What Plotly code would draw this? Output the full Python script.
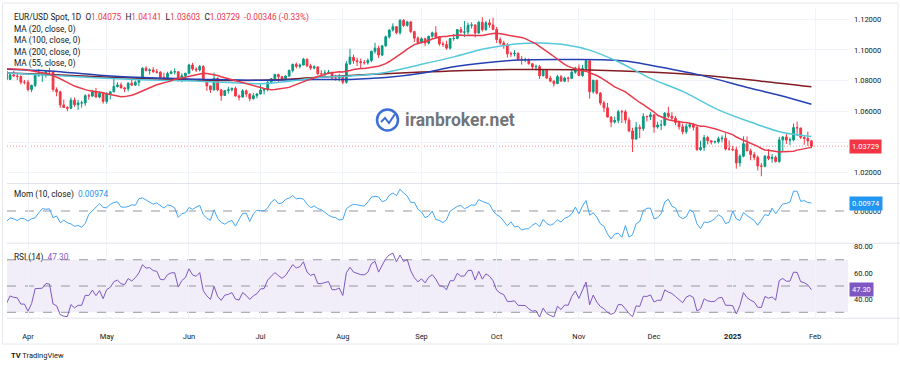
import numpy as np
import pandas as pd
import plotly.graph_objects as go

# ---------------- data (daily EUR/USD, Feb 26 2024 .. Jan 31 2025) ----------------
opens = [
    1.0820, 1.0850, 1.0845, 1.0835,
    1.0805, 1.0838, 1.0855, 1.0855, 1.0900, 1.0948, 1.0938, 1.0927, 1.0928, 1.0948, 1.0882, 1.0890, 1.0870, 1.0865, 1.0922, 1.0860, 1.0808, 1.0838, 1.0830, 1.0827, 1.0790,
    1.0790, 1.0742, 1.0769, 1.0836, 1.0837, 1.0838, 1.0860, 1.0858, 1.0742, 1.0727, 1.0642, 1.0625, 1.0620, 1.0673, 1.0643, 1.0655, 1.0655, 1.0702, 1.0700, 1.0727, 1.0693, 1.0718,
    1.0665, 1.0714, 1.0727, 1.0762, 1.0772, 1.0753, 1.0747, 1.0783, 1.0771, 1.0790, 1.0820, 1.0881, 1.0866, 1.0870, 1.0858, 1.0855, 1.0822, 1.0820, 1.0847, 1.0857, 1.0858, 1.0800, 1.0832,
    1.0848, 1.0902, 1.0876, 1.0870, 1.0892, 1.0800, 1.0766, 1.0740, 1.0815, 1.0740, 1.0703, 1.0735, 1.0740, 1.0750, 1.0700, 1.0693, 1.0734, 1.0713, 1.0683, 1.0702,
    1.0713, 1.0739, 1.0741, 1.0790, 1.0812, 1.0840, 1.0826, 1.0813, 1.0830, 1.0866, 1.0907, 1.0893, 1.0902, 1.0940, 1.0897, 1.0882, 1.0890, 1.0845, 1.0845, 1.0850, 1.0855, 1.0818, 1.0818,
    1.0825, 1.0790, 1.0910, 1.0953, 1.0930, 1.0924, 1.0918, 1.0917, 1.0932, 1.0992, 1.1012, 1.0967, 1.1027, 1.1086, 1.1130, 1.1152, 1.1113, 1.1193, 1.1160, 1.1183, 1.1120, 1.1077,
    1.1048, 1.1073, 1.1045, 1.1090, 1.1112, 1.1085, 1.1040, 1.1036, 1.1012, 1.1075, 1.1075, 1.1133, 1.1116, 1.1118, 1.1161, 1.1163, 1.1111, 1.1180, 1.1133, 1.1177, 1.1163,
    1.1135, 1.1068, 1.1046, 1.1033, 1.0975, 1.0975, 1.0978, 1.0940, 1.0936, 1.0937, 1.0910, 1.0890, 1.0892, 1.0832, 1.0868, 1.0817, 1.0797, 1.0781, 1.0826, 1.0797, 1.0817, 1.0815, 1.0855,
    1.0883, 1.0833, 1.0879, 1.0930, 1.0728, 1.0803, 1.0719, 1.0655, 1.0623, 1.0563, 1.0530, 1.0541, 1.0598, 1.0597, 1.0543, 1.0472, 1.0419, 1.0495, 1.0488, 1.0567, 1.0565,
    1.0577, 1.0498, 1.0511, 1.0511, 1.0588, 1.0568, 1.0555, 1.0527, 1.0500, 1.0467, 1.0502, 1.0513, 1.0496, 1.0350, 1.0364, 1.0429, 1.0408, 1.0400, 1.0402, 1.0421, 1.0425, 1.0354,
    1.0354, 1.0350, 1.0264, 1.0308, 1.0389, 1.0343, 1.0318, 1.0300, 1.0244, 1.0242, 1.0308, 1.0292, 1.0300, 1.0273, 1.0414, 1.0433, 1.0413, 1.0414, 1.0494, 1.0492, 1.0430, 1.0423, 1.04075,
]
highs = [
    1.0865, 1.0863, 1.0848, 1.0860,
    1.0850, 1.0860, 1.0868, 1.0912, 1.0950, 1.0981, 1.0945, 1.0940, 1.0963, 1.0955, 1.0905, 1.0902, 1.0880, 1.0930, 1.0942, 1.0868, 1.0845, 1.0864, 1.0845, 1.0835, 1.0805,
    1.0805, 1.0775, 1.0840, 1.0876, 1.0850, 1.0868, 1.0885, 1.0863, 1.0756, 1.0735, 1.0677, 1.0633, 1.0690, 1.0690, 1.0675, 1.0670, 1.0712, 1.0715, 1.0740, 1.0753, 1.0729, 1.0725,
    1.0725, 1.0730, 1.0812, 1.0790, 1.0788, 1.0760, 1.0790, 1.0810, 1.0800, 1.0822, 1.0888, 1.0895, 1.0880, 1.0888, 1.0877, 1.0862, 1.0852, 1.0858, 1.0868, 1.0880, 1.0860, 1.0848, 1.0852,
    1.0910, 1.0916, 1.0887, 1.0902, 1.0902, 1.0806, 1.0768, 1.0852, 1.0822, 1.0743, 1.0740, 1.0760, 1.0755, 1.0762, 1.0710, 1.0745, 1.0742, 1.0718, 1.0720, 1.0720,
    1.0776, 1.0750, 1.0799, 1.0816, 1.0845, 1.0845, 1.0830, 1.0835, 1.0873, 1.0910, 1.0918, 1.0912, 1.0948, 1.0944, 1.0910, 1.0900, 1.0890, 1.0868, 1.0870, 1.0870, 1.0857, 1.0838, 1.0845,
    1.0832, 1.0927, 1.1008, 1.0970, 1.0950, 1.0944, 1.0935, 1.0945, 1.0995, 1.1047, 1.1028, 1.1030, 1.1094, 1.1135, 1.1174, 1.1155, 1.1201, 1.1202, 1.1190, 1.1190, 1.1125, 1.1089,
    1.1083, 1.1080, 1.1092, 1.1120, 1.1155, 1.1090, 1.1055, 1.1060, 1.1078, 1.1105, 1.1137, 1.1150, 1.1189, 1.1179, 1.1180, 1.1168, 1.1190, 1.1214, 1.1190, 1.1200, 1.1210,
    1.1150, 1.1083, 1.1060, 1.1045, 1.0990, 1.0998, 1.0985, 1.0960, 1.0950, 1.0945, 1.0915, 1.0905, 1.0902, 1.0870, 1.0870, 1.0832, 1.0803, 1.0838, 1.0838, 1.0826, 1.0826, 1.0870, 1.0890,
    1.0905, 1.0903, 1.0937, 1.0937, 1.0806, 1.0805, 1.0725, 1.0669, 1.0655, 1.0568, 1.0566, 1.0609, 1.0610, 1.0610, 1.0560, 1.0493, 1.0530, 1.0514, 1.0588, 1.0572, 1.0595,
    1.0583, 1.0532, 1.0545, 1.0596, 1.0630, 1.0595, 1.0570, 1.0540, 1.0520, 1.0520, 1.0525, 1.0520, 1.0512, 1.0408, 1.0446, 1.0440, 1.0410, 1.0410, 1.0435, 1.0443, 1.0457, 1.0410,
    1.0375, 1.0367, 1.0320, 1.0437, 1.0436, 1.0358, 1.0335, 1.0312, 1.0263, 1.0315, 1.0353, 1.0321, 1.0312, 1.0434, 1.0438, 1.0455, 1.0430, 1.0521, 1.0533, 1.0492, 1.0443, 1.0468, 1.04141,
]
lows = [
    1.0815, 1.0835, 1.0795, 1.0795,
    1.0796, 1.0826, 1.0835, 1.0850, 1.0890, 1.0925, 1.0910, 1.0895, 1.0922, 1.0875, 1.0873, 1.0860, 1.0837, 1.0850, 1.0850, 1.0800, 1.0805, 1.0827, 1.0804, 1.0776, 1.0775,
    1.0730, 1.0725, 1.0757, 1.0825, 1.0792, 1.0820, 1.0842, 1.0728, 1.0698, 1.0623, 1.0622, 1.0601, 1.0614, 1.0630, 1.0610, 1.0624, 1.0636, 1.0675, 1.0693, 1.0690, 1.0685, 1.0650,
    1.0650, 1.0677, 1.0725, 1.0755, 1.0750, 1.0725, 1.0730, 1.0765, 1.0765, 1.0765, 1.0803, 1.0860, 1.0840, 1.0852, 1.0846, 1.0818, 1.0805, 1.0814, 1.0842, 1.0840, 1.0796, 1.0790, 1.0812,
    1.0842, 1.0865, 1.0857, 1.0860, 1.0795, 1.0733, 1.0720, 1.0735, 1.0730, 1.0668, 1.0700, 1.0715, 1.0730, 1.0696, 1.0671, 1.0690, 1.0693, 1.0666, 1.0676, 1.0685,
    1.0710, 1.0710, 1.0730, 1.0785, 1.0795, 1.0790, 1.0800, 1.0805, 1.0825, 1.0853, 1.0880, 1.0880, 1.0900, 1.0888, 1.0870, 1.0874, 1.0835, 1.0828, 1.0825, 1.0842, 1.0810, 1.0800, 1.0795,
    1.0777, 1.0780, 1.0903, 1.0910, 1.0895, 1.0880, 1.0905, 1.0905, 1.0920, 1.0977, 1.0948, 1.0960, 1.1020, 1.1075, 1.1120, 1.1102, 1.1100, 1.1150, 1.1152, 1.1110, 1.1053, 1.1040,
    1.1042, 1.1025, 1.1035, 1.1080, 1.1075, 1.1027, 1.1020, 1.1002, 1.1002, 1.1060, 1.1070, 1.1110, 1.1085, 1.1100, 1.1140, 1.1082, 1.1105, 1.1120, 1.1124, 1.1145, 1.1128,
    1.1046, 1.1033, 1.1008, 1.0951, 1.0955, 1.0958, 1.0931, 1.0905, 1.0920, 1.0905, 1.0870, 1.0865, 1.0811, 1.0828, 1.0810, 1.0790, 1.0761, 1.0778, 1.0796, 1.0790, 1.0790, 1.0810, 1.0845,
    1.0832, 1.0825, 1.0866, 1.0683, 1.0715, 1.0710, 1.0640, 1.0595, 1.0560, 1.0496, 1.0520, 1.0522, 1.0523, 1.0521, 1.0464, 1.0335, 1.0420, 1.0425, 1.0472, 1.0534, 1.0543,
    1.0460, 1.0487, 1.0477, 1.0503, 1.0555, 1.0540, 1.0510, 1.0480, 1.0450, 1.0453, 1.0488, 1.0475, 1.0343, 1.0343, 1.0343, 1.0385, 1.0384, 1.0390, 1.0390, 1.0398, 1.0344, 1.0344,
    1.0340, 1.0226, 1.0240, 1.0300, 1.0340, 1.0281, 1.0282, 1.0214, 1.0177, 1.0235, 1.0282, 1.0265, 1.0266, 1.0265, 1.0341, 1.0388, 1.0380, 1.0405, 1.0438, 1.0420, 1.0382, 1.0375, 1.03603,
]
closes = [
    1.0850, 1.0845, 1.0835, 1.0805,
    1.0838, 1.0855, 1.0855, 1.0900, 1.0948, 1.0938, 1.0927, 1.0928, 1.0948, 1.0882, 1.0890, 1.0870, 1.0865, 1.0922, 1.0860, 1.0808, 1.0838, 1.0830, 1.0827, 1.0790, 1.0790,
    1.0742, 1.0769, 1.0836, 1.0837, 1.0838, 1.0860, 1.0858, 1.0742, 1.0727, 1.0642, 1.0625, 1.0620, 1.0673, 1.0643, 1.0655, 1.0655, 1.0702, 1.0700, 1.0727, 1.0693, 1.0718, 1.0665,
    1.0714, 1.0727, 1.0762, 1.0772, 1.0753, 1.0747, 1.0783, 1.0771, 1.0790, 1.0820, 1.0881, 1.0866, 1.0870, 1.0858, 1.0855, 1.0822, 1.0820, 1.0847, 1.0857, 1.0858, 1.0800, 1.0832, 1.0848,
    1.0902, 1.0876, 1.0870, 1.0892, 1.0800, 1.0766, 1.0740, 1.0815, 1.0740, 1.0703, 1.0735, 1.0740, 1.0750, 1.0700, 1.0693, 1.0734, 1.0713, 1.0683, 1.0702, 1.0713,
    1.0739, 1.0741, 1.0790, 1.0812, 1.0840, 1.0826, 1.0813, 1.0830, 1.0866, 1.0907, 1.0893, 1.0902, 1.0940, 1.0897, 1.0882, 1.0890, 1.0845, 1.0845, 1.0850, 1.0855, 1.0818, 1.0818, 1.0825,
    1.0790, 1.0910, 1.0953, 1.0930, 1.0924, 1.0918, 1.0917, 1.0932, 1.0992, 1.1012, 1.0967, 1.1027, 1.1086, 1.1130, 1.1152, 1.1113, 1.1193, 1.1160, 1.1183, 1.1120, 1.1077, 1.1048,
    1.1073, 1.1045, 1.1090, 1.1112, 1.1085, 1.1040, 1.1036, 1.1012, 1.1075, 1.1075, 1.1133, 1.1116, 1.1118, 1.1161, 1.1163, 1.1111, 1.1180, 1.1133, 1.1177, 1.1163, 1.1135,
    1.1068, 1.1046, 1.1033, 1.0975, 1.0975, 1.0978, 1.0940, 1.0936, 1.0937, 1.0910, 1.0890, 1.0892, 1.0832, 1.0868, 1.0817, 1.0797, 1.0781, 1.0826, 1.0797, 1.0817, 1.0815, 1.0855, 1.0883,
    1.0833, 1.0879, 1.0930, 1.0728, 1.0803, 1.0719, 1.0655, 1.0623, 1.0563, 1.0530, 1.0541, 1.0598, 1.0597, 1.0543, 1.0472, 1.0419, 1.0495, 1.0488, 1.0567, 1.0565, 1.0577,
    1.0498, 1.0511, 1.0511, 1.0588, 1.0568, 1.0555, 1.0527, 1.0500, 1.0467, 1.0502, 1.0513, 1.0496, 1.0350, 1.0364, 1.0429, 1.0408, 1.0400, 1.0402, 1.0421, 1.0425, 1.0354, 1.0354,
    1.0350, 1.0264, 1.0308, 1.0389, 1.0343, 1.0318, 1.0300, 1.0244, 1.0242, 1.0308, 1.0292, 1.0300, 1.0273, 1.0414, 1.0433, 1.0413, 1.0414, 1.0494, 1.0492, 1.0430, 1.0423, 1.04075, 1.03729,
]

# long moving averages (bar index, price)
ma55_bar = [-6, 6, 20, 34, 48, 65, 74, 82, 90, 99, 109, 119, 128, 137, 143, 151, 157, 165, 174, 183, 193, 202, 211, 219]
ma55_val = [1.0850, 1.0836, 1.0817, 1.0804, 1.0797, 1.0780, 1.0800, 1.0822, 1.0830, 1.0850, 1.0901, 1.0955,
            1.1010, 1.1040, 1.1045, 1.1031, 1.0999, 1.0923, 1.0815, 1.0730, 1.0610, 1.0530, 1.0462, 1.0436]
ma100_bar = [-6, 6, 20, 34, 48, 65, 80, 90, 100, 110, 119, 128, 137, 150, 160, 167, 174, 188, 202, 210, 219]
ma100_val = [1.0875, 1.0863, 1.0836, 1.0819, 1.0810, 1.0802, 1.0808, 1.0808, 1.0820, 1.0848, 1.0890,
             1.0917, 1.0934, 1.0938, 1.0937, 1.0928, 1.0901, 1.0836, 1.0750, 1.0705, 1.0646]
ma200_bar = [-6, 6, 20, 34, 48, 65, 80, 95, 110, 128, 140, 157, 175, 190, 205, 219]
ma200_val = [1.0850, 1.0840, 1.0826, 1.0812, 1.0803, 1.0803, 1.0820, 1.0840, 1.0856, 1.0870,
             1.0873, 1.0870, 1.0855, 1.0832, 1.0797, 1.0760]

month_labels = ["Apr", "May", "Jun", "Jul", "Aug", "Sep", "Oct", "Nov", "Dec", "<b>2025</b>", "Feb"]
last_price = 1.03729
last_mom = 0.00974
last_rsi = 47.30

assert len(opens) == len(highs) == len(lows) == len(closes) == 245, (len(opens), len(highs), len(lows), len(closes))

# ---------------- bar index axis ----------------
dates = pd.bdate_range("2024-02-26", "2025-02-03")
first_apr = list(dates).index(pd.Timestamp("2024-04-01"))
bar_all = np.arange(len(dates)) - first_apr
bars = bar_all[:len(closes)]
month_pos = []
prev_month = None
for d, b in zip(dates, bar_all):
    if b < 0:
        continue
    if d.month != prev_month:
        month_pos.append(int(b))
        prev_month = d.month
month_pos = month_pos[:len(month_labels)]

c = pd.Series(closes)
ma20 = c.rolling(20).mean()
mom = c - c.shift(10)
delta = c.diff()
up = delta.clip(lower=0).ewm(alpha=1 / 14, adjust=False).mean()
dn = (-delta.clip(upper=0)).ewm(alpha=1 / 14, adjust=False).mean()
rsi = 100 - 100 / (1 + up / dn)

W, H = 900, 367
def py(px):
    return 1 - px / H
def pxx(px):
    return px / W

X0, X1 = 7, 848
xr = [(X0 - 28) / 3.5773, (X1 - 28) / 3.5773]

FONT = "Roboto, Arial, sans-serif"
TXT = "#131722"
GRID = "#f0f3fa"
UP, DN = "#089981", "#f23645"

fig = go.Figure()
fig.add_trace(go.Candlestick(
    x=bars, open=opens, high=highs, low=lows, close=closes,
    increasing=dict(line=dict(color=UP, width=1), fillcolor=UP),
    decreasing=dict(line=dict(color=DN, width=1), fillcolor=DN),
    whiskerwidth=0, xaxis="x", yaxis="y", showlegend=False, hoverinfo="skip"))

fig.add_trace(go.Scatter(x=ma200_bar, y=ma200_val, mode="lines", line=dict(color="#801c22", width=1.5, shape="spline"),
                         xaxis="x", yaxis="y", showlegend=False, hoverinfo="skip"))
fig.add_trace(go.Scatter(x=ma100_bar, y=ma100_val, mode="lines", line=dict(color="#2440b3", width=1.5, shape="spline"),
                         xaxis="x", yaxis="y", showlegend=False, hoverinfo="skip"))
fig.add_trace(go.Scatter(x=ma55_bar, y=ma55_val, mode="lines", line=dict(color="#56c8dc", width=1.5, shape="spline"),
                         xaxis="x", yaxis="y", showlegend=False, hoverinfo="skip"))
fig.add_trace(go.Scatter(x=bars, y=ma20, mode="lines", line=dict(color="#e8394a", width=1.5),
                         xaxis="x", yaxis="y", showlegend=False, hoverinfo="skip"))

fig.add_trace(go.Scatter(x=bars, y=mom, mode="lines", line=dict(color="#42a5f5", width=1),
                         xaxis="x2", yaxis="y2", showlegend=False, hoverinfo="skip"))
fig.add_trace(go.Scatter(x=bars, y=rsi, mode="lines", line=dict(color="#7e57c2", width=1),
                         xaxis="x3", yaxis="y3", showlegend=False, hoverinfo="skip"))

xcommon = dict(range=xr, domain=[pxx(X0), pxx(X1)], showgrid=True, gridcolor=GRID, gridwidth=1,
               tickvals=month_pos, zeroline=False, showline=False, ticks="", fixedrange=True)
ycommon = dict(side="right", showline=False, zeroline=False, ticks="", ticklabelstandoff=5,
               tickfont=dict(family=FONT, size=7.5, color=TXT), fixedrange=True)

price_ticks = [1.02, 1.04, 1.06, 1.08, 1.10, 1.12]
fig.update_layout(
    width=W, height=H, margin=dict(l=0, r=0, t=0, b=0),
    paper_bgcolor="white", plot_bgcolor="white", showlegend=False,
    font=dict(family=FONT, color=TXT), hovermode=False,
    xaxis=dict(**xcommon, anchor="y", showticklabels=False, rangeslider=dict(visible=False)),
    xaxis2=dict(**xcommon, anchor="y2", matches="x", showticklabels=False),
    xaxis3=dict(**xcommon, anchor="y3", matches="x", showticklabels=True, ticktext=month_labels,
                ticklabelstandoff=12, tickfont=dict(family=FONT, size=7.5, color=TXT)),
    yaxis=dict(**ycommon, domain=[py(183), py(8)], range=[1.01329, 1.12737], anchor="x",
               tickvals=price_ticks, ticktext=[f"{v:.5f}" for v in price_ticks],
               showgrid=True, gridcolor=GRID),
    yaxis2=dict(**ycommon, domain=[py(242.5), py(184.5)], range=[-0.03985, 0.03352], anchor="x2",
                tickvals=[0.0], ticktext=["0.00000"], showgrid=False),
    yaxis3=dict(**ycommon, domain=[py(318), py(243.5)], range=[25.65, 82.4], anchor="x3",
                tickvals=[40, 60, 80], ticktext=["40.00", "60.00", "80.00"], showgrid=False),
)

shapes = []
# RSI band
shapes.append(dict(type="rect", xref="paper", yref="y3", x0=pxx(X0), x1=pxx(X1), y0=30, y1=70,
                   fillcolor="rgba(126,87,194,0.10)", line=dict(width=0), layer="below"))
for lv in [70, 50, 30]:
    shapes.append(dict(type="line", xref="paper", yref="y3", x0=pxx(X0), x1=pxx(X1), y0=lv, y1=lv,
                       line=dict(color="#9598a1", width=1, dash="dash"), layer="below"))
shapes.append(dict(type="line", xref="paper", yref="y2", x0=pxx(X0), x1=pxx(X1), y0=0, y1=0,
                   line=dict(color="#9598a1", width=1, dash="dash"), layer="below"))
# last price line
shapes.append(dict(type="line", xref="paper", yref="y", x0=pxx(X0), x1=pxx(X1), y0=last_price, y1=last_price,
                   line=dict(color="rgba(242,54,69,0.7)", width=0.8, dash="1px,2px"), layer="below"))
# pane separators
for ypx in [183.5, 243.2, 318.2]:
    shapes.append(dict(type="line", xref="paper", yref="paper", x0=pxx(X0), x1=1, y0=py(ypx), y1=py(ypx),
                       line=dict(color="#e0e3eb", width=1)))
# outer frame
shapes.append(dict(type="rect", xref="paper", yref="paper", x0=pxx(2.5), x1=pxx(898), y0=py(344), y1=py(3),
                   line=dict(color="#e6e8ee", width=1), fillcolor="rgba(0,0,0,0)"))
# watermark icon
shapes.append(dict(type="circle", xref="paper", yref="paper", x0=pxx(377), x1=pxx(398), y0=py(130.5), y1=py(109.5),
                   line=dict(color="#3d6fd6", width=2.5)))
shapes.append(dict(type="path", xref="paper", yref="paper",
                   path=f"M {pxx(381)} {py(122)} L {pxx(385)} {py(118)} L {pxx(389)} {py(123)} L {pxx(395)} {py(114)}",
                   line=dict(color="#3d6fd6", width=2)))
fig.update_layout(shapes=shapes)

R = "#f23645"
def ann(text, xpx, ypx, size=8, color=TXT, **kw):
    return dict(text=text, xref="paper", yref="paper", x=pxx(xpx), y=py(ypx), xanchor="left", yanchor="middle",
                showarrow=False, font=dict(family=FONT, size=size, color=color), **kw)

title = (f"EUR/USD Spot, 1D&nbsp;&nbsp;O<span style='color:{R}'>1.04075</span>&nbsp;&nbsp;H<span style='color:{R}'>1.04141</span>"
         f"&nbsp;&nbsp;L<span style='color:{R}'>1.03603</span>&nbsp;&nbsp;C<span style='color:{R}'>1.03729</span>"
         f"&nbsp;&nbsp;<span style='color:{R}'>-0.00346 (-0.33%)</span>")
annotations = [
    ann(title, 12, 17.3, size=8.3),
    ann("MA (20, close, 0)", 12, 29.3, size=8.3),
    ann("MA (100, close, 0)", 12, 41, size=8.3),
    ann("MA (200, close, 0)", 12, 52.3, size=8.3),
    ann("MA (55, close, 0)", 12, 63.3, size=8.3),
    ann(f"Mom (10, close)&nbsp;&nbsp;<span style='color:#2196f3'>{last_mom:.5f}</span>", 12, 194.5, size=8.3),
    ann(f"RSI (14)&nbsp;&nbsp;<span style='color:#7e57c2'>{last_rsi:.2f}</span>", 12, 257, size=8.3),
    ann("<b>iranbroker.net</b>", 403, 120, size=17.5, color="rgba(75,78,86,0.8)"),
    ann("<b>TV</b> TradingView", 9, 355, size=7.5),
]
# last value labels
for val, yref, col, fmt in [(last_price, "y", "#f23645", "{:.5f}"), (last_mom, "y2", "#2196f3", "{:.5f}"),
                            (last_rsi, "y3", "#7e57c2", "{:.2f}")]:
    annotations.append(dict(text=fmt.format(val), xref="paper", yref=yref, x=pxx(X1 + 0.5), y=val,
                            xanchor="left", yanchor="middle", showarrow=False, bgcolor=col, borderpad=2,
                            font=dict(family=FONT, size=7.5, color="white")))
fig.update_layout(annotations=annotations)

fig.write_html("out.html", config={"displayModeBar": False, "staticPlot": True},
               post_script="document.body.style.margin='0';document.body.style.overflow='hidden';")
